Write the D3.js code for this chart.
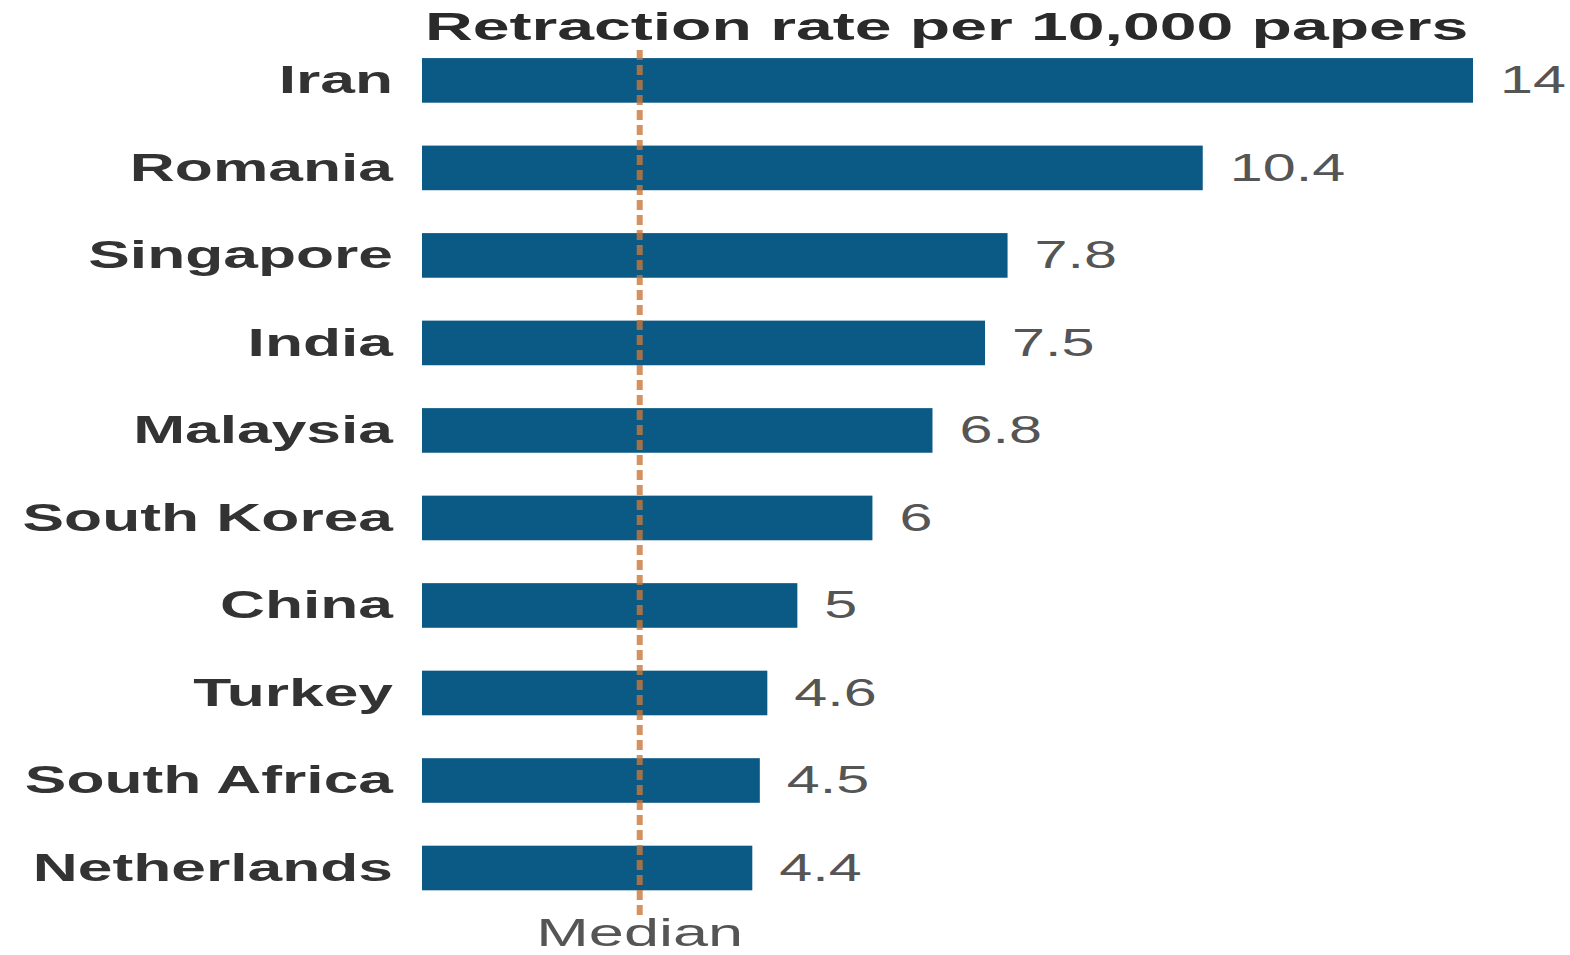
<!DOCTYPE html>
<html>
<head>
<meta charset="utf-8">
<script src="https://cdn.jsdelivr.net/npm/d3@7"></script>
<style>
  html, body { margin: 0; padding: 0; background: #fff; }
  svg { display: block; font-family: "Liberation Sans", Arial, sans-serif; }
</style>
</head>
<body>
<svg id="chart"></svg>
<script>
// data
const countries = ["Iran", "Romania", "Singapore", "India", "Malaysia", "South Korea", "China", "Turkey", "South Africa", "Netherlands"];
const rates = [14, 10.4, 7.8, 7.5, 6.8, 6, 5, 4.6, 4.5, 4.4];
const medianRate = 2.9;
const title = "Retraction rate per 10,000 papers";
const medianLabel = "Median";

const width = 1570, height = 955;
const barColor = "#0b5a86";
const lineColor = "#c9773a";

const svg = d3.select("#chart").attr("width", width).attr("height", height);

const rows = countries.map((c, i) => ({ country: c, rate: rates[i] }));

const x = d3.scaleLinear().domain([0, 14]).range([422, 1473]);
const y = d3.scaleBand()
  .domain(countries)
  .range([36.2, 912.2])
  .paddingInner(0.49)
  .paddingOuter(0.25);

// title
svg.append("text")
  .attr("transform", `translate(425,40) scale(1.74,1)`)
  .attr("font-size", 38)
  .attr("font-weight", "bold")
  .attr("fill", "#2a2a2a")
  .text(title);

// bars
svg.append("g")
  .selectAll("rect")
  .data(rows)
  .join("rect")
  .attr("x", x(0))
  .attr("y", d => y(d.country))
  .attr("width", d => x(d.rate) - x(0))
  .attr("height", y.bandwidth())
  .attr("fill", barColor);

// country labels
svg.append("g")
  .selectAll("text")
  .data(rows)
  .join("text")
  .attr("transform", d => `translate(393,${y(d.country) + y.bandwidth() / 2 + 13}) scale(1.64,1)`)
  .attr("text-anchor", "end")
  .attr("font-size", 38)
  .attr("font-weight", "bold")
  .attr("fill", "#333")
  .text(d => d.country);

// value labels
svg.append("g")
  .selectAll("text")
  .data(rows)
  .join("text")
  .attr("transform", d => `translate(${x(d.rate) + 27},${y(d.country) + y.bandwidth() / 2 + 13}) scale(1.56,1)`)
  .attr("font-size", 38)
  .attr("fill", "#555")
  .text(d => d3.format("~g")(d.rate));

// median line
svg.append("line")
  .attr("x1", x(medianRate)).attr("x2", x(medianRate))
  .attr("y1", 50).attr("y2", 915)
  .attr("stroke", lineColor)
  .attr("stroke-width", 6)
  .attr("stroke-opacity", 0.8)
  .attr("stroke-dasharray", "10,5");

svg.append("text")
  .attr("transform", `translate(${x(medianRate)},946) scale(1.66,1)`)
  .attr("text-anchor", "middle")
  .attr("font-size", 38)
  .attr("fill", "#555")
  .text(medianLabel);
</script>
</body>
</html>
